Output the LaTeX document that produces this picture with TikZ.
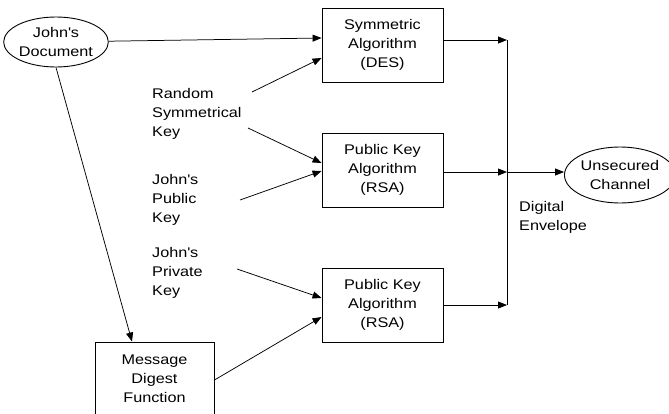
\documentclass[tikz,border=0pt]{standalone}
\usepackage{fontspec}
\setmainfont{Liberation Sans}[FakeStretch=1.16]
\usetikzlibrary{shapes.geometric, arrows.meta, positioning, calc}

\begin{document}
\begin{tikzpicture}[
    x=1pt, y=-1pt,
    font=\fontsize{14}{19}\selectfont,
    edge/.style={-{Triangle[length=9pt, width=7pt]}, line width=0.75pt},
    algo/.style={rectangle, draw, line width=0.9pt, minimum height=74pt, minimum width=121pt, inner sep=0pt, align=center},
    chan/.style={ellipse, draw, line width=0.9pt, minimum height=50pt, minimum width=98pt, inner sep=0pt, align=center},
    lbl/.style={anchor=north west, inner sep=0pt, align=left}
]
    \useasboundingbox (0,0) rectangle (669,413);

    \node[chan] (doc) at (56,42) {John\textquotesingle s\\Document};
    \node[algo] (sym)  at (382.5,45)  {Symmetric\\Algorithm\\(DES)};
    \node[algo] (pk1)  at (382.5,170) {Public Key\\Algorithm\\(RSA)};
    \node[algo] (pk2)  at (382.5,305) {Public Key\\Algorithm\\(RSA)};
    \node[algo, minimum width=119pt] (mdf) at (154.5,379) {Message\\Digest\\Function};
    \node[chan, minimum height=56pt, minimum width=97pt] (unsec) at (620,175) {Unsecured\\Channel};

    \node[lbl] (rsk)   at (152,88)  {Random\\Symmetrical\\Key};
    \node[lbl] (jpub)  at (152,174) {John\textquotesingle s\\Public\\Key};
    \node[lbl] (jpriv) at (152,247) {John\textquotesingle s\\Private\\Key};
    \node[lbl] (env)   at (519,201) {Digital\\Envelope};

    \coordinate (bustop) at (507,40);
    \coordinate (busmid) at (507,172);
    \coordinate (busbot) at (507,305);

    % inputs
    \draw[edge] (doc) -- ([yshift=7pt]sym.west);
    \draw[edge] ([xshift=100pt, yshift=-4pt]rsk.north west) -- ([yshift=-13pt]sym.west);
    \draw[edge] ([xshift=96pt, yshift=-40pt]rsk.north west) -- ([yshift=7pt]pk1.west);
    \draw[edge] ([xshift=88pt, yshift=-26pt]jpub.north west) -- ([yshift=-1pt]pk1.west);
    \draw[edge] ([xshift=85pt, yshift=-22pt]jpriv.north west) -- ([yshift=7pt]pk2.west);
    \draw[edge] (doc.south) -- ([xshift=-22.5pt]mdf.north);
    \draw[edge] ([yshift=-1pt]mdf.east) -- ([yshift=-12pt]pk2.west);

    % digital envelope
    \draw[edge] (sym.east |- bustop) -- (bustop);
    \draw[edge] (pk1.east |- busmid) -- (busmid);
    \draw[edge] (pk2.east |- busbot) -- (busbot);
    \draw[line width=0.75pt] (bustop) -- (busbot);
    \draw[edge] (busmid) -- (unsec.west |- busmid);
\end{tikzpicture}
\end{document}
